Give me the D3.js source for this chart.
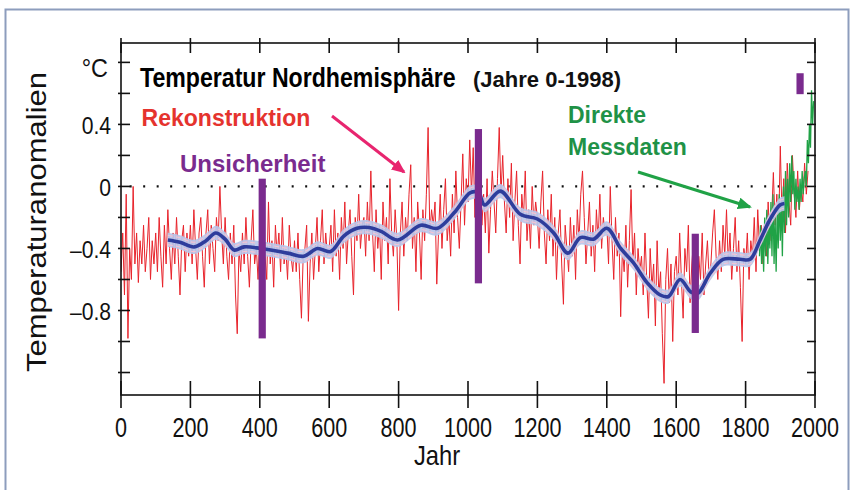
<!DOCTYPE html>
<html>
<head>
<meta charset="utf-8">
<script src="https://cdn.jsdelivr.net/npm/d3@7"></script>
<style>
  html, body { margin: 0; padding: 0; background: #ffffff; }
  svg { display: block; }
</style>
</head>
<body>
<svg id="chart" width="854" height="490"></svg>
<script>
// Reconstructed northern-hemisphere temperature anomaly, 5-year steps from year 0
const reconStart = 0;
const reconStep = 5;
const reconstruction = [
  -0.55,-0.3,-0.7,-0.05,-0.98,-0.4,-0.6,0.0,-0.5,-0.3,-0.62,-0.35,-0.5,-0.25,-0.55,-0.4,-0.2,-0.6,-0.35,-0.5,
  -0.3,-0.55,-0.2,-0.45,-0.65,-0.25,-0.5,-0.15,-0.4,-0.6,-0.3,-0.5,-0.2,-0.45,-0.7,-0.35,-0.25,-0.55,-0.3,-0.45,
  -0.25,-0.5,-0.15,-0.4,-0.6,-0.3,-0.2,-0.45,-0.65,-0.3,-0.15,-0.5,-0.25,-0.4,-0.55,-0.2,-0.35,0.0,-0.3,-0.5,
  -0.2,-0.45,-0.6,-0.3,-0.5,-0.25,-0.7,-0.95,-0.4,-0.55,-0.3,-0.5,-0.2,-0.45,-0.65,-0.35,-0.15,-0.5,-0.4,-0.6,
  -0.3,-0.55,-0.2,-0.45,-0.6,-0.1,-0.5,-0.35,-0.65,-0.25,-0.45,-0.3,-0.55,-0.2,-0.5,-0.4,-0.6,-0.25,-0.45,-0.55,
  -0.35,-0.55,-0.3,-0.6,-0.85,-0.45,-0.4,-0.25,-0.87,-0.5,-0.3,-0.6,-0.4,-0.2,-0.55,-0.35,-0.15,-0.5,-0.3,-0.45,
  -0.4,-0.25,-0.55,-0.15,-0.45,-0.3,-0.6,-0.2,-0.4,-0.1,-0.5,-0.3,-0.15,-0.45,-0.7,-0.2,-0.35,-0.05,-0.4,-0.25,
  -0.2,-0.45,-0.1,-0.35,0.1,-0.3,-0.55,-0.15,-0.4,-0.25,-0.6,-0.1,-0.35,-0.2,-0.5,0.05,-0.3,-0.45,-0.15,-0.35,
  -0.8,-0.3,-0.1,-0.45,-0.2,-0.35,-0.05,0.14,-0.4,-0.2,-0.55,-0.1,-0.3,-0.6,-0.15,-0.35,-0.05,0.38,-0.3,-0.15,
  -0.25,-0.1,-0.63,-0.3,-0.05,-0.4,-0.15,0.05,-0.35,-0.2,-0.45,-0.05,-0.3,0.1,-0.2,-0.4,-0.1,0.21,-0.25,0.05,
  -0.1,0.3,-0.05,0.25,-0.2,0.1,-0.1,0.15,-0.25,-0.05,-0.3,0.05,-0.43,-0.15,0.1,-0.1,-0.3,0.05,0.38,-0.05,
  0.2,-0.1,-0.3,0.05,-0.2,0.15,-0.35,-0.1,0.1,-0.25,-0.5,-0.05,-0.2,0.1,-0.35,-0.15,-0.4,0.0,-0.25,-0.1,
  -0.2,-0.4,-0.1,0.1,-0.3,-0.5,-0.15,-0.35,-0.05,-0.45,-0.2,-0.6,-0.3,-0.15,-0.5,-0.76,-0.25,-0.4,-0.55,-0.2,
  -0.45,-0.25,-0.6,-0.15,-0.35,-0.05,0.1,-0.2,-0.5,-0.3,-0.1,-0.45,-0.25,-0.55,-0.15,-0.35,-0.05,-0.4,-0.2,-0.3,
  -0.25,-0.5,0.0,-0.35,-0.6,-0.2,-0.45,-0.3,-0.84,-0.4,-0.55,-0.25,-0.65,-0.35,-0.02,-0.5,-0.3,-0.7,-0.4,-0.55,
  -0.45,-0.7,-0.3,-0.6,-0.85,-0.4,-0.65,-0.5,-0.9,-0.35,-0.7,-0.55,-0.95,-1.27,-0.6,-0.4,-0.75,-0.5,-1.0,-0.55,
  -0.45,-0.7,-0.3,-0.6,-0.85,-0.4,-0.55,-0.25,-0.75,-0.5,-0.35,-0.65,-0.9,-0.45,-0.6,-0.3,-0.7,-0.5,-0.35,-0.6,
  -0.5,-0.3,-0.15,-0.45,-0.6,-0.35,-0.55,-0.25,-0.45,-0.15,-0.5,-0.3,-0.6,-0.4,-0.2,-0.55,-0.35,-0.65,-1.0,-0.4,
  -0.5,-0.3,-0.6,-0.35,-0.45,-0.2,-0.55,-0.15,-0.4,-0.25,-0.5,-0.3,-0.45,-0.1,-0.35,-0.2,0.09,-0.25,-0.05,-0.3,
  0.26,-0.2,0.05,-0.3,0.15,-0.1,-0.25,0.2,-0.05,-0.2,0.1,-0.15,0.0,-0.1,0.15,-0.05,0.1
];

// Instrumental record, 3-year steps from 1840
const measuredStart = 1840;
const measuredStep = 3;
const measured = [
  -0.45,-0.25,-0.5,-0.3,-0.55,-0.2,-0.45,-0.15,-0.5,-0.25,-0.4,-0.1,-0.45,-0.05,-0.5,-0.2,-0.55,-0.15,-0.4,-0.05,
  -0.35,-0.1,-0.45,0.0,-0.3,0.1,-0.25,0.05,-0.2,0.15,-0.1,0.2,-0.05,0.1,-0.15,0.05,-0.1,0.0,-0.15,0.05,
  -0.1,0.1,-0.05,0.05,0.1,0.0,0.3,0.15,0.4,0.25,0.62,0.4,0.55
];

// Smoothed reconstruction (year, anomaly)
const smoothYears = [135,170,211,245,273,300,326,355,403,480,527,566,604,642,680,715,750,797,864,912,960,1007,1030,1048,1093,1151,1200,1247,1288,1324,1362,1400,1440,1476,1516,1554,1578,1611,1642,1662,1698,1735,1784,1813,1842,1870,1899,1912];
const smoothValues = [-0.345,-0.36,-0.39,-0.35,-0.30,-0.34,-0.41,-0.39,-0.40,-0.43,-0.45,-0.40,-0.42,-0.32,-0.27,-0.265,-0.29,-0.345,-0.25,-0.27,-0.17,-0.04,-0.04,-0.12,-0.03,-0.18,-0.21,-0.30,-0.43,-0.33,-0.34,-0.27,-0.40,-0.49,-0.62,-0.70,-0.71,-0.60,-0.68,-0.69,-0.56,-0.47,-0.47,-0.47,-0.345,-0.215,-0.12,-0.11];
const smoothBand = 0.046;

// Uncertainty ranges at selected years
const uncYears = [407, 1030, 1655, 1957];
const uncLow = [-0.98, -0.625, -0.945, 0.595];
const uncHigh = [0.05, 0.37, -0.305, 0.73];

// Axis ticks
const xTicks = [0, 200, 400, 600, 800, 1000, 1200, 1400, 1600, 1800, 2000];
const xTickLabels = ["0", "200", "400", "600", "800", "1000", "1200", "1400", "1600", "1800", "2000"];
const yMinorTicks = [0.8, 0.6, 0.4, 0.2, 0, -0.2, -0.4, -0.6, -0.8, -1.0, -1.2];
const yTicks = [0.4, 0, -0.4, -0.8];
const yTickLabels = ["0.4", "0", "\u20130.4", "\u20130.8"];

const svg = d3.select("#chart");
const pL = 121, pR = 815, pT = 43, pB = 395;
const x = d3.scaleLinear().domain([0, 2000]).range([pL, pR]);
const y = d3.scaleLinear().domain([-1.345, 0.925]).range([pB, pT]);

const font = "Arial, 'Liberation Sans', Helvetica, sans-serif";
const C = {
  red: "#e8232b", blue: "#2e3d9c", band: "#b8c5ea", dash: "#f4c4d3",
  green: "#20a246", greenText: "#1f9247", purple: "#7a2b8e",
  pink: "#e8256f", frame: "#8d9dbd", axis: "#111"
};

// outer frame
svg.append("rect").attr("x", 5.5).attr("y", 9.5).attr("width", 843).attr("height", 520)
  .attr("fill", "#fff").attr("stroke", C.frame).attr("stroke-width", 2);

const defs = svg.append("defs");

function label(s, px, py, o) {
  return svg.append("text")
    .attr("transform", `translate(${px},${py})` + (o.rotate ? ` rotate(${o.rotate})` : "") + ` scale(${o.sx || 1},1)`)
    .attr("font-family", font).attr("font-size", o.size)
    .attr("font-weight", o.weight || "normal")
    .attr("fill", o.fill || "#111")
    .attr("text-anchor", o.anchor || "start")
    .text(s);
}

// zero reference line
svg.append("line").attr("x1", x(25)).attr("x2", x(1975)).attr("y1", y(0)).attr("y2", y(0))
  .attr("stroke", "#111").attr("stroke-width", 2.2).attr("stroke-dasharray", "2,11.5");

defs.append("clipPath").attr("id", "plot")
  .append("rect").attr("x", pL).attr("y", pT).attr("width", pR - pL).attr("height", pB - pT);

const plot = svg.append("g").attr("clip-path", "url(#plot)");

// reconstruction
const line = d3.line().x(d => x(d[0])).y(d => y(d[1]));
const reconPts = reconstruction.map((v, i) => [reconStart + i * reconStep, v]);
plot.append("path").attr("d", line(reconPts)).attr("fill", "none")
  .attr("stroke", C.red).attr("stroke-width", 1);

// instrumental record
const measPts = measured.map((v, i) => [measuredStart + i * measuredStep, v]);
plot.append("path").attr("d", line(measPts)).attr("fill", "none")
  .attr("stroke", C.green).attr("stroke-width", 1.3);

// smoothed curve with band
const smoothPts = smoothYears.map((yr, i) => [yr, smoothValues[i]]);
const area = d3.area().curve(d3.curveCatmullRom)
  .x(d => x(d[0])).y0(d => y(d[1] - smoothBand)).y1(d => y(d[1] + smoothBand));
plot.append("path").attr("d", area(smoothPts)).attr("fill", C.band).attr("opacity", 0.92);
const smoothLine = d3.line().curve(d3.curveCatmullRom).x(d => x(d[0])).y(d => y(d[1]));
[-0.03, 0.03].forEach(off => {
  plot.append("path").attr("d", smoothLine(smoothPts.map(d => [d[0], d[1] + off])))
    .attr("fill", "none").attr("stroke", C.dash).attr("stroke-width", 1.1)
    .attr("stroke-dasharray", "5,3");
});
plot.append("path").attr("d", smoothLine(smoothPts)).attr("fill", "none")
  .attr("stroke", C.blue).attr("stroke-width", 3.6);

// uncertainty bars
uncYears.forEach((yr, i) => {
  svg.append("rect").attr("x", x(yr) - 3.6).attr("width", 7.2)
    .attr("y", y(uncHigh[i])).attr("height", y(uncLow[i]) - y(uncHigh[i]))
    .attr("fill", C.purple);
});

// axes frame
const ax = svg.append("g").attr("stroke", C.axis).attr("stroke-width", 1.6);
ax.append("rect").attr("x", pL).attr("y", pT).attr("width", pR - pL).attr("height", pB - pT)
  .attr("fill", "none");
xTicks.forEach(t => {
  ax.append("line").attr("x1", x(t)).attr("x2", x(t)).attr("y1", pB - 14).attr("y2", pB + 13);
  ax.append("line").attr("x1", x(t)).attr("x2", x(t)).attr("y1", pT - 5).attr("y2", pT + 10);
});
yMinorTicks.forEach(t => {
  ax.append("line").attr("x1", pL - 3).attr("x2", pL + 9).attr("y1", y(t)).attr("y2", y(t));
  ax.append("line").attr("x1", pR - 8).attr("x2", pR + 1).attr("y1", y(t)).attr("y2", y(t));
});

// tick labels
xTicks.forEach((t, i) => label(xTickLabels[i], x(t), 437, { size: 27, sx: 0.8, anchor: "middle" }));
yTicks.forEach((t, i) => label(yTickLabels[i], 111, y(t) + 9.5, { size: 24, sx: 0.88, anchor: "end" }));
label("\u00B0C", 108, 77, { size: 26, sx: 0.9, anchor: "end" });

// axis titles
label("Jahr", 437, 465, { size: 27, sx: 0.88, anchor: "middle" });
label("Temperaturanomalien", 46, 222, { size: 27, sx: 1.15, anchor: "middle", rotate: -90 });

// headings
label("Temperatur Nordhemisph\u00E4re", 140, 86.5, { size: 27, sx: 0.857, weight: "bold", fill: "#000" });
label("(Jahre 0-1998)", 473, 86.7, { size: 22, weight: "bold", fill: "#111" });

// annotations
label("Rekonstruktion", 141.5, 125.5, { size: 24, sx: 0.96, weight: "bold", fill: "#e5332e" });
label("Unsicherheit", 180, 171.5, { size: 24, weight: "bold", fill: C.purple });
label("Direkte", 568, 123.3, { size: 23, weight: "bold", fill: C.greenText });
label("Messdaten", 568, 155, { size: 23, weight: "bold", fill: C.greenText });

function arrowMarker(id, color) {
  defs.append("marker").attr("id", id).attr("markerUnits", "userSpaceOnUse")
    .attr("viewBox", "0 0 14 12").attr("refX", 12).attr("refY", 6)
    .attr("markerWidth", 14).attr("markerHeight", 12).attr("orient", "auto")
    .append("path").attr("d", "M0,0 L14,6 L0,12 Z").attr("fill", color);
}
arrowMarker("ahPink", C.pink);
arrowMarker("ahGreen", C.green);
svg.append("line").attr("x1", 332).attr("y1", 116).attr("x2", 404).attr("y2", 172)
  .attr("stroke", C.pink).attr("stroke-width", 3).attr("marker-end", "url(#ahPink)");
svg.append("line").attr("x1", 638).attr("y1", 172).attr("x2", 750).attr("y2", 207)
  .attr("stroke", C.green).attr("stroke-width", 3).attr("marker-end", "url(#ahGreen)");
</script>
</body>
</html>
